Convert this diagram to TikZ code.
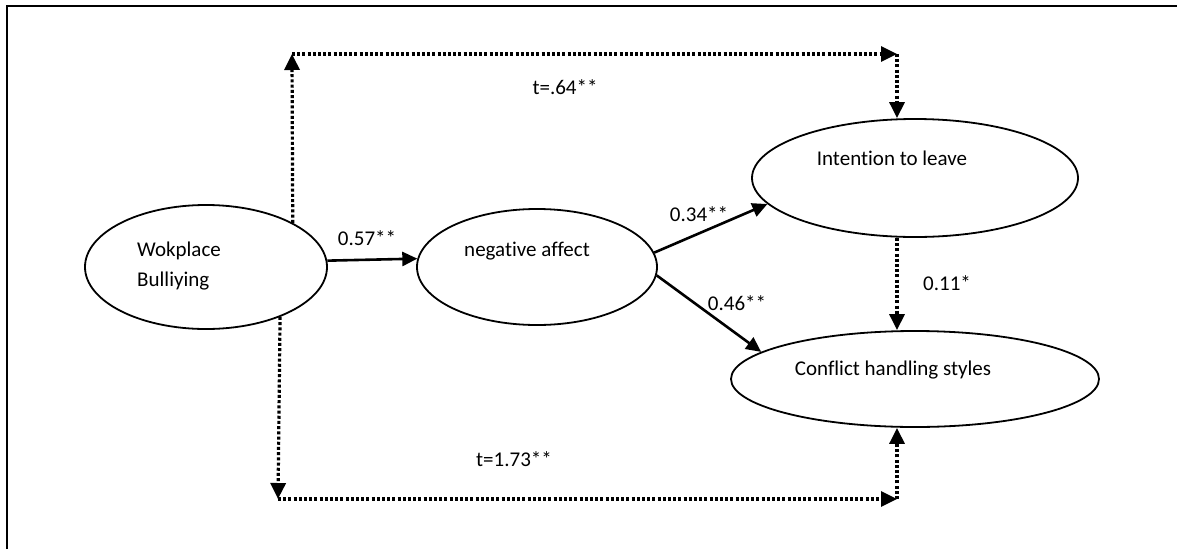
\documentclass[tikz,border=0pt]{standalone}
\usepackage{fontspec}
\setmainfont[Ligatures={NoCommon}]{Carlito}
\usetikzlibrary{shapes.geometric,arrows.meta}
\begin{document}
\begin{tikzpicture}[x=1pt,y=-1pt,
  oval/.style={draw,ellipse,line width=1.8pt,inner sep=0pt},
  txt/.style={inner sep=0pt,font=\fontsize{21}{25}\selectfont},
  solidarrow/.style={line width=2.6pt,-{Triangle[length=15pt,width=14pt]}},
  dotarrow/.style={line width=3.2pt,dash pattern=on 3pt off 2.2pt,-{Triangle[length=16pt,width=15pt]}}]
\useasboundingbox (0,0) rectangle (1177,549);
% frame
\draw[line width=1.4pt] (7,549) -- (7,6) -- (1177,6);
% ellipses
\node[oval,minimum width=242pt,minimum height=124pt] (wb) at (206,267) {};
\node[oval,minimum width=240pt,minimum height=116pt] (na) at (537,267) {};
\node[oval,minimum width=326pt,minimum height=118pt] (il) at (915,178) {};
\node[oval,minimum width=368pt,minimum height=96pt] (ch) at (915,379) {};
% texts
\node[txt,anchor=west] (wbt1) at (137,251) {Wokplace};
\node[txt,anchor=west] (wbt2) at (137,281) {Bulliying};
\node[txt] (nat) at (527,251) {negative affect};
\node[txt] (ilt) at (892,158) {Intention to leave};
\node[txt] (cht) at (893,370) {Conflict handling styles};
% solid paths
\draw[solidarrow] (wb.3) -- (na.176);
\node[txt] (l57) at (367,238) {0.57**};
\draw[solidarrow] (na.7) -- (il.190);
\node[txt] (l34) at (699,214) {0.34**};
\draw[solidarrow] (na.-4) -- (ch.170.7);
\node[txt] (l46) at (737,303) {0.46**};
% coordinates for dotted paths
\coordinate (tl) at (292,54);
\coordinate (tr) at (897,54);
\coordinate (bl) at (278,499);
\coordinate (br) at (897,499);
\draw[dotarrow] (wb.27) -- (tl);
\draw[dotarrow] (tl) -- (tr);
\draw[dotarrow] (tr) -- (il.north -| tr);
\node[txt] (l64) at (565,87) {t=.64**};
\draw[dotarrow] (wb.-34.7) -- (bl);
\draw[dotarrow] (bl) -- (br);
\draw[dotarrow] (br) -- (ch.south -| br);
\node[txt] (l173) at (514,459) {t=1.73**};
\draw[dotarrow] (il.south -| tr) -- (ch.north -| tr);
\node[txt] (l11) at (947,283) {0.11*};
\end{tikzpicture}
\end{document}
